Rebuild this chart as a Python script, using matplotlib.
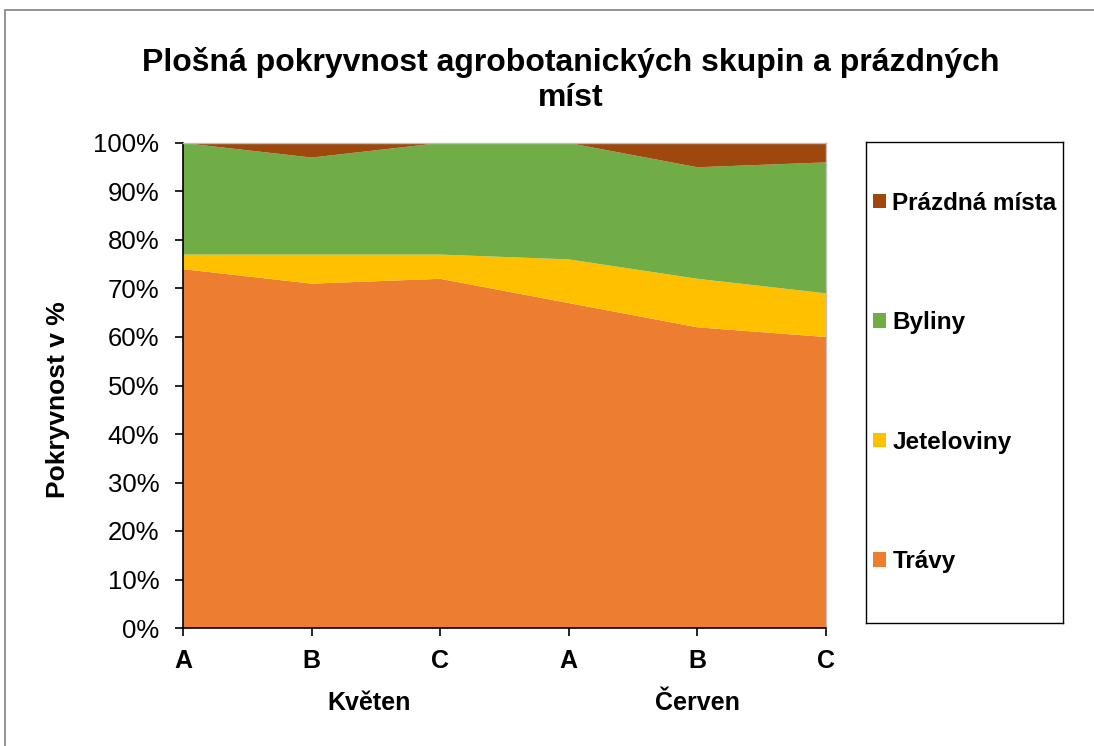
import numpy as np
import matplotlib
matplotlib.use("Agg")
import matplotlib.pyplot as plt
from matplotlib.patches import Rectangle, Patch
from matplotlib.ticker import PercentFormatter

plt.rcParams['font.family'] = ['Liberation Sans', 'DejaVu Sans']

# data (percent cover)
categories = ["A", "B", "C", "A", "B", "C"]
months = ["Květen", "Červen"]
travy = [74, 71, 72, 67, 62, 60]
jeteloviny = [3, 6, 5, 9, 10, 9]
byliny = [23, 20, 23, 24, 23, 27]
prazdna = [0, 3, 0, 0, 5, 4]
series_names = ["Trávy", "Jeteloviny", "Byliny", "Prázdná místa"]
colors = ["#ED7D31", "#FFC000", "#70AD47", "#9E480E"]

fig = plt.figure(figsize=(10.94, 7.46), dpi=100)
ax = fig.add_axes([183/1094, 1 - 628/746, (826-183)/1094, (628-143)/746])

x = np.arange(len(categories))
ax.stackplot(x, travy, jeteloviny, byliny, prazdna, colors=colors, linewidth=0)

ax.set_xlim(0, len(categories) - 1)
ax.set_ylim(0, 100)
ax.set_yticks(np.arange(0, 101, 10))
ax.yaxis.set_major_formatter(PercentFormatter(decimals=0))
ax.set_xticks(x)
ax.set_xticklabels(categories, fontsize=18, fontweight="bold")
ax.tick_params(axis="y", labelsize=18.5, length=6, width=1.2, direction="out", pad=11)
ax.tick_params(axis="x", length=6, width=1.2, direction="out", pad=9)

for s in ["left", "bottom"]:
    ax.spines[s].set_color("black")
    ax.spines[s].set_linewidth(1.2)
for s in ["top", "right"]:
    ax.spines[s].set_color("#BFBFBF")
    ax.spines[s].set_linewidth(1.0)

ax.set_ylabel("Pokryvnost v %", fontsize=19, fontweight="bold")
ax.yaxis.set_label_coords(-(183 - 70)/643, (628 - 400)/485)

# month group labels
ax.text(1.45, -0.155, months[0], transform=ax.get_xaxis_transform(),
        ha="center", va="center", fontsize=18, fontweight="bold")
ax.text(4.0, -0.155, months[1], transform=ax.get_xaxis_transform(),
        ha="center", va="center", fontsize=18, fontweight="bold")

fig.text(0.522, 1 - 80/746, "Plošná pokryvnost agrobotanických skupin a prázdných\nmíst",
         ha="center", va="center", fontsize=23, fontweight="bold", linespacing=1.25)

# legend box
lax = fig.add_axes([866/1094, 1 - 623/746, (1063-866)/1094, (623-142)/746])
lax.set_xticks([])
lax.set_yticks([])
for s in lax.spines.values():
    s.set_color("black")
    s.set_linewidth(1.0)
handles = [Patch(facecolor=c, edgecolor="none") for c in colors]
lax.legend(handles[::-1], series_names[::-1], loc="center left", frameon=False,
           prop={"size": 17.5, "weight": "bold"}, labelspacing=3.97,
           handlelength=0.54, handleheight=0.54, handletextpad=0.25,
           borderaxespad=0.0, borderpad=0.3, bbox_to_anchor=(0.0, 0.5))

# outer chart border
fig.add_artist(Rectangle((5/1094, -0.1), 1.2, 1 - 10/746 + 0.1, transform=fig.transFigure,
                         fill=False, edgecolor="#808080", linewidth=1.2, clip_on=False))

fig.savefig("out.png", dpi=100)
